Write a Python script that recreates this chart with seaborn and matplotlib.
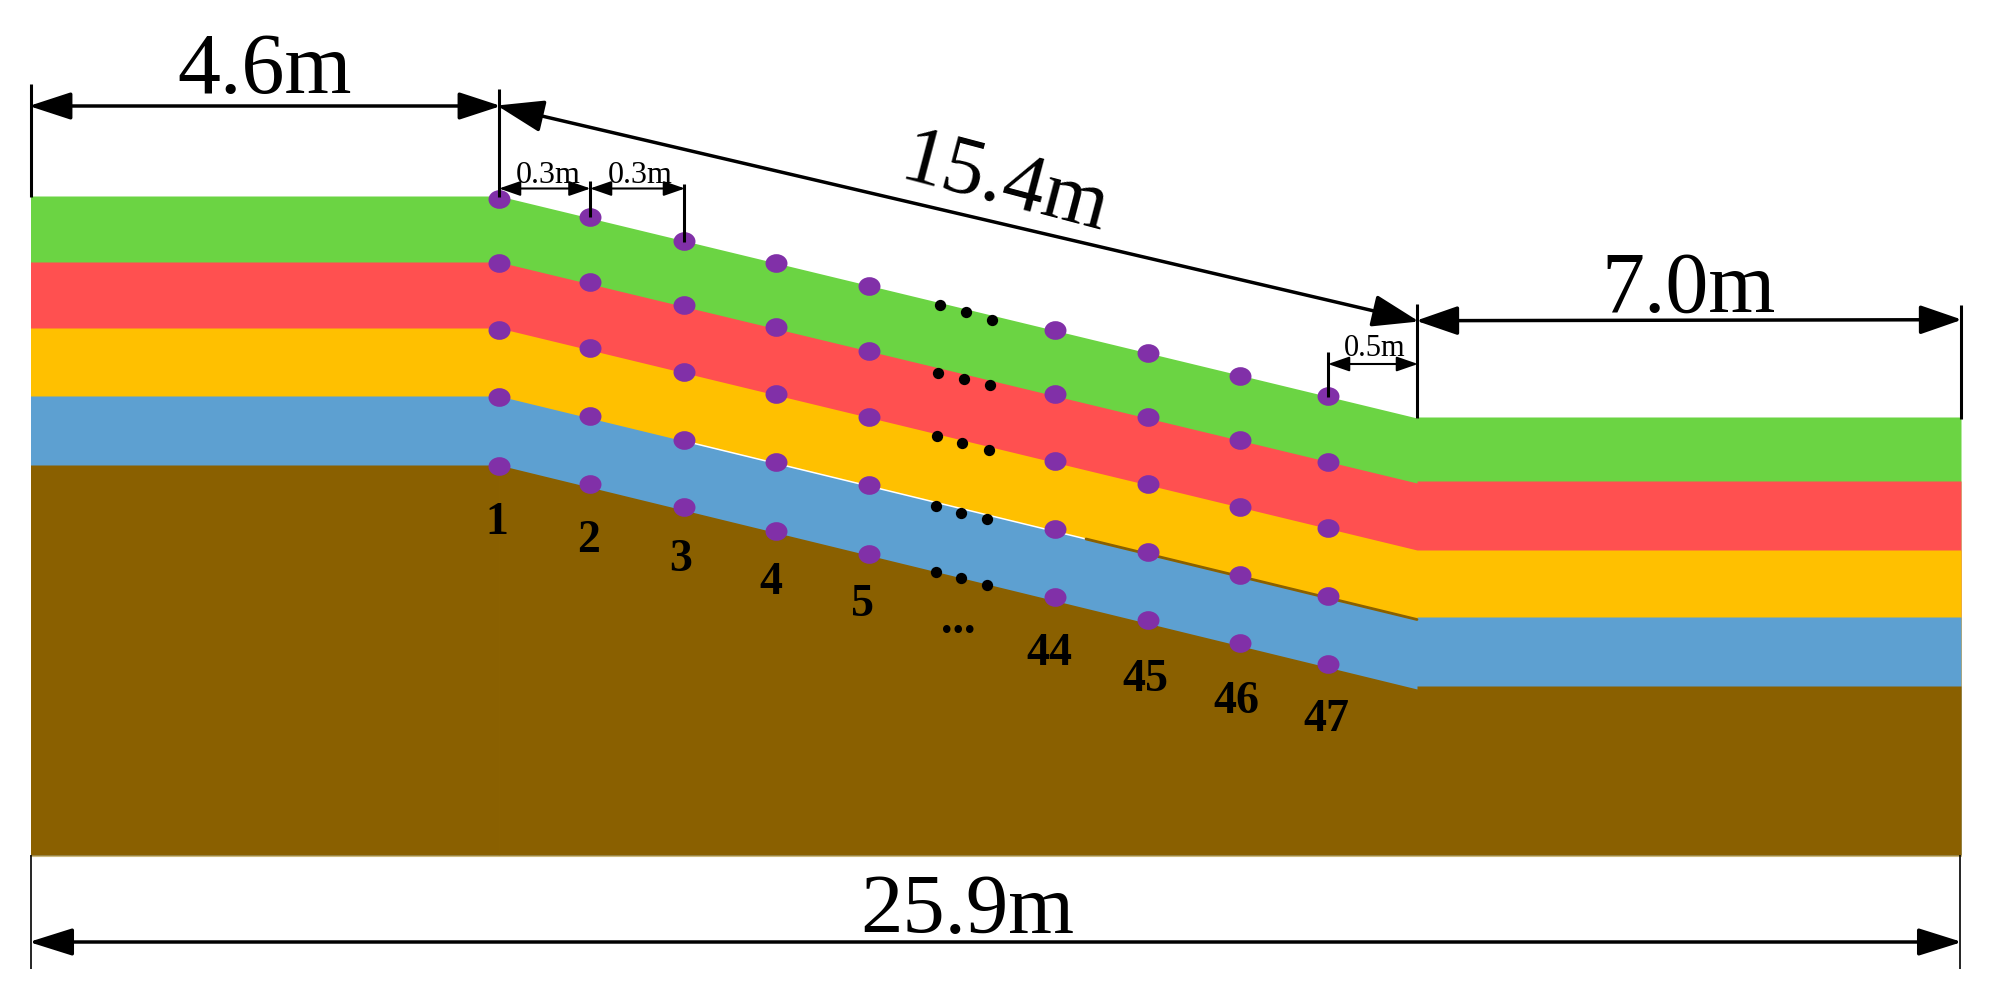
import numpy as np
import pandas as pd
import matplotlib
matplotlib.use("Agg")
import matplotlib.pyplot as plt
from matplotlib.path import Path
from matplotlib.transforms import Affine2D
import seaborn as sns

layer_x = [30.5, 499, 1417, 1417, 1961]
surface_y = [197, 197, 419, 418, 418]
green_red_y = [263, 263, 484, 482, 482]
red_yellow_y = [329, 329, 551, 551, 551]
yellow_blue_y = [397, 397, 620, 618, 618]
blue_brown_y = [466, 466, 690, 687, 687]
base_y = 856

point_x = [499, 590, 684, 776.5, 869, 1055, 1148, 1240, 1328.5]
point_labels = ["1", "2", "3", "4", "5", "44", "45", "46", "47"]
row1_y = [200, 218, 242, 264, 287, 331, 354, 377, 397]
row2_y = [264, 283, 306, 328, 352, 395, 418, 441, 463]
row3_y = [331, 349, 373, 395, 418, 462, 485, 508, 529]
row4_y = [398, 417, 441, 463, 486, 530, 553, 576, 597]
row5_y = [467, 485, 508, 532, 555, 598, 621, 644, 665]

dots_x = [940, 966, 992, 938, 964, 990, 937, 962.5, 989, 936, 961.5, 987.5, 936, 961, 987.5]
dots_y = [306, 313, 321, 373.5, 380, 386, 436.5, 443.5, 450.5, 507, 514, 520, 573, 579, 586]

label_x = [497, 589, 681, 771, 862.5, 1049, 1145, 1236, 1326]
label_y = [523, 541, 560, 583, 605, 654, 680, 702, 720]

colors = ["#6BD443", "#FF5050", "#FFC000", "#5DA0D1", "#8A6000"]
purple = "#8130A8"

sns.set_theme(style="white")
plt.rcParams["font.family"] = ["Liberation Serif", "DejaVu Serif"]
plt.rcParams["text.color"] = "black"

fig = plt.figure(figsize=(19.89, 10.04), dpi=100, facecolor="white")
ax = fig.add_axes([0, 0, 1, 1])
ax.set_xlim(0, 1989)
ax.set_ylim(1004, 0)
ax.axis("off")

# soil layers, each one painted down to the base so no seams show
bounds = [surface_y, green_red_y, red_yellow_y, yellow_blue_y, blue_brown_y]
for b, c in zip(bounds, colors):
    ax.fill_between(layer_x, b, base_y, color=c, linewidth=0, zorder=1)

# small artefacts along the yellow/blue boundary and the base
sns.lineplot(x=[680, 1086], y=[441, 540], color="white", linewidth=1.1, ax=ax, zorder=2)
sns.lineplot(x=[1086, 1417], y=[540, 620.5], color="#8A6000", linewidth=2, ax=ax, zorder=2)
sns.lineplot(x=[499, 499], y=[466, 856], color="#926800", linewidth=0.6, ax=ax, zorder=2)
sns.lineplot(x=[30.5, 1961], y=[856.5, 856.5], color="#CDBB80", linewidth=0.8, ax=ax, zorder=2)

# monitoring points
df = pd.DataFrame({"x": point_x, "r1": row1_y, "r2": row2_y, "r3": row3_y, "r4": row4_y, "r5": row5_y})
df = df.melt(id_vars="x", value_name="y")
ellipse = Path.unit_circle().transformed(Affine2D().scale(1, 0.85))
sns.scatterplot(data=df, x="x", y="y", color=purple, marker=ellipse, s=250,
                linewidth=0, legend=False, ax=ax, zorder=3)
sns.scatterplot(x=dots_x, y=dots_y, color="black", s=66, linewidth=0, legend=False, ax=ax, zorder=3)

# extension lines: x, y from, y to, width
ext_lines = [(31, 85, 198, 2.2), (499, 90, 198, 2.2), (590, 182, 218, 2.2), (684, 185, 243, 2.2),
             (1328.5, 353, 398, 2.2), (1417, 305, 419, 2.2), (1961, 306, 420, 2.2),
             (31, 856, 970, 1.2), (1960.5, 856, 970, 1.2)]
for x, y0, y1, w in ext_lines:
    ax.plot([x, x], [y0, y1], color="black", linewidth=w, solid_capstyle="butt", zorder=4)


def dim_arrow(p0, p1, lw, hl, hw):
    style = f"<|-|>,head_length={hl},head_width={hw}"
    ax.annotate("", xy=p1, xytext=p0, zorder=5,
                arrowprops=dict(arrowstyle=style, color="black", lw=lw, shrinkA=0, shrinkB=0,
                                mutation_scale=1))


dim_arrow((29, 107), (501, 107), 2.5, 26, 8.5)
dim_arrow((497, 106.5), (1419, 322.5), 2.5, 29, 10)
dim_arrow((1416, 321.7), (1962, 320.7), 2.5, 26, 9)
dim_arrow((29, 943), (1962, 943), 2.5, 27, 8.5)
dim_arrow((499, 189.5), (590.5, 189.5), 1.5, 13, 4.5)
dim_arrow((590, 189.5), (685, 189.5), 1.5, 13, 4.5)
dim_arrow((1328, 365), (1418, 365), 1.5, 13, 4.5)

# dimension text
ax.text(265, 93, "4.6m", fontsize=62, ha="center", va="baseline", zorder=6)
ax.text(1689, 312, "7.0m", fontsize=62, ha="center", va="baseline", zorder=6)
ax.text(967, 933, "25.9m", fontsize=61, ha="center", va="baseline", zorder=6)
ax.text(1005, 186, "15.4m", fontsize=60, ha="center", va="center", rotation=-14.8,
        rotation_mode="anchor", zorder=6)
ax.text(548, 183, "0.3m", fontsize=23, ha="center", va="baseline", zorder=6)
ax.text(640, 183, "0.3m", fontsize=23, ha="center", va="baseline", zorder=6)
ax.text(1375, 356, "0.5m", fontsize=22, ha="center", va="baseline", zorder=6)

# point numbers
for x, y, t in zip(label_x, label_y, point_labels):
    ax.text(x, y, t, fontsize=33, fontweight="bold", ha="center", va="center", zorder=6)
ax.text(958, 633, "...", fontsize=33, fontweight="bold", ha="center", va="baseline", zorder=6)

fig.savefig("out.png", dpi=100, facecolor="white")
